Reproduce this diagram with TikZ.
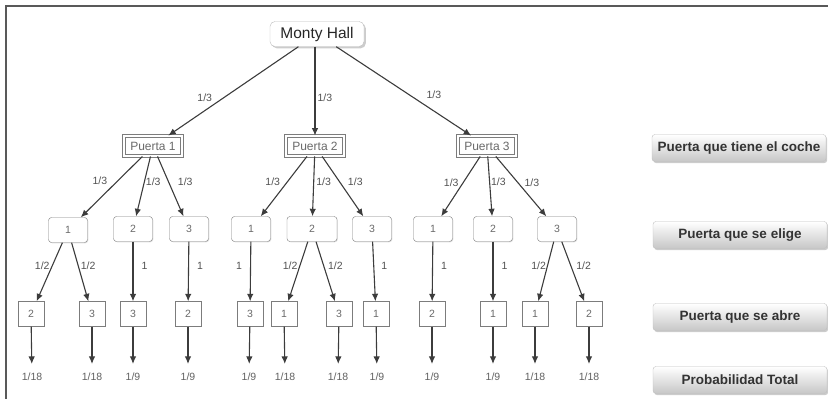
\documentclass[tikz,border=0pt]{standalone}
\usepackage{fontspec}
\setmainfont{Liberation Sans}
\usetikzlibrary{arrows.meta,shadows}
\definecolor{boxline}{HTML}{7C7C7C}
\definecolor{boxtext}{HTML}{6A6A6A}
\definecolor{wire}{HTML}{3C3C3C}
\tikzset{%
  frame/.style={draw=black!65,line width=1.6pt},
  rootbox/.style={draw=boxline!50,rounded corners=5pt,fill=white,minimum width=94pt,minimum height=25pt,inner sep=2pt,
    drop shadow={shadow xshift=1.8pt,shadow yshift=-1.8pt,opacity=0.4},font=\fontsize{15.5}{17}\selectfont,text=black!85},
  doorbox/.style={draw=boxline,double=white,double distance=1.3pt,line width=0.9pt,fill=white,
    minimum width=58pt,minimum height=20pt,inner sep=1pt,font=\fontsize{12}{13}\selectfont,text=boxtext},
  pickbox/.style={draw=boxline,rounded corners=3pt,fill=white,minimum width=39pt,minimum height=25pt,
    drop shadow={shadow xshift=0.8pt,shadow yshift=-0.8pt,opacity=0.25},
    font=\fontsize{10.5}{12}\selectfont,text=boxtext},
  openbox/.style={draw=boxline,fill=white,minimum width=26pt,minimum height=25pt,
    font=\fontsize{10.5}{12}\selectfont,text=boxtext},
  legendbox/.style={draw=black!25,rounded corners=3pt,top color=white,bottom color=black!22,
    minimum width=174pt,minimum height=27pt,inner sep=1pt,font=\fontsize{13.5}{15}\selectfont\bfseries,text=black!80,
    drop shadow={shadow xshift=1.2pt,shadow yshift=-1.6pt,opacity=0.4}},
  lbl/.style={font=\fontsize{10.5}{12}\selectfont,text=black!68,inner sep=1pt},
  prob/.style={font=\fontsize{10.5}{12}\selectfont,text=black!62,inner sep=1pt},
  branch/.style={draw=wire,line width=1.1pt,-{Latex[length=7.5pt,width=6.5pt]}}
}
\begin{document}
\begin{tikzpicture}[x=1pt,y=-1pt]
  \useasboundingbox (0,0) rectangle (828,399);
  \draw[frame] (6,399) -- (6,6) -- (828,6);
  % tree nodes
  \path
    (317,34) node (mh)[rootbox]{Monty Hall}
    (153,146) node (p1)[doorbox]{Puerta 1}
    (315,146) node (p2)[doorbox]{Puerta 2}
    (487,146) node (p3)[doorbox]{Puerta 3}
    (68,230) node (c11)[pickbox]{1}
    (133,229) node (c12)[pickbox]{2}
    (189,229) node (c13)[pickbox]{3}
    (251,229) node (c21)[pickbox]{1}
    (312,229) node (c22)[pickbox,minimum width=50pt]{2}
    (372,229) node (c23)[pickbox]{3}
    (433,229) node (c31)[pickbox]{1}
    (493,229) node (c32)[pickbox]{2}
    (557,229) node (c33)[pickbox]{3}
    (31,314) node (o11)[openbox]{2}
    (92,314) node (o12)[openbox]{3}
    (133,314) node (o13)[openbox]{3}
    (188,314) node (o14)[openbox]{2}
    (250,314) node (o21)[openbox]{3}
    (284,314) node (o22)[openbox]{1}
    (339,314) node (o23)[openbox]{3}
    (376,314) node (o24)[openbox]{1}
    (432,314) node (o31)[openbox]{2}
    (493,314) node (o32)[openbox]{1}
    (535,314) node (o33)[openbox]{1}
    (589,314) node (o34)[openbox]{2};
  % total probabilities
  \path
    (32,377) node (t11)[prob]{1/18}
    (92,377) node (t12)[prob]{1/18}
    (133,377) node (t13)[prob]{1/9}
    (188,377) node (t14)[prob]{1/9}
    (249,377) node (t21)[prob]{1/9}
    (285,377) node (t22)[prob]{1/18}
    (338,377) node (t23)[prob]{1/18}
    (377,377) node (t24)[prob]{1/9}
    (432,377) node (t31)[prob]{1/9}
    (493,377) node (t32)[prob]{1/9}
    (535,377) node (t33)[prob]{1/18}
    (589,377) node (t34)[prob]{1/18};
  % legend
  \path
    (739,148) node (lg1)[legendbox]{Puerta que tiene el coche}
    (740,235) node (lg2)[legendbox]{Puerta que se elige}
    (740,317) node (lg3)[legendbox]{Puerta que se abre}
    (740,380) node (lg4)[legendbox]{Probabilidad Total};
  % car door
  \draw[branch] (mh) -- node[lbl,pos=0.575,left=10pt]{1/3} (p1);
  \draw[branch] (mh.south -| p2) -- node[lbl,pos=0.575,right=1pt]{1/3} (p2);
  \draw[branch] (mh) -- node[lbl,pos=0.54,right=16pt]{1/3} (p3);
  % chosen door
  \draw[branch] (p1) -- node[lbl,pos=0.4,left=9pt]{1/3} (c11);
  \draw[branch] (p1) -- node[lbl,pos=0.42,right=0pt]{1/3} (c12);
  \draw[branch] (p1) -- node[lbl,pos=0.42,right=8pt]{1/3} (c13);
  \draw[branch] (p2) -- node[lbl,pos=0.42,left=6pt]{1/3} (c21);
  \draw[branch] (p2) -- node[lbl,pos=0.42,right=1pt]{1/3} (c22);
  \draw[branch] (p2) -- node[lbl,pos=0.42,right=7pt]{1/3} (c23);
  \draw[branch] (p3) -- node[lbl,pos=0.44,left=3pt]{1/3} (c31);
  \draw[branch] (p3) -- node[lbl,pos=0.42,right=0pt]{1/3} (c32);
  \draw[branch] (p3) -- node[lbl,pos=0.44,right=5pt]{1/3} (c33);
  % opened door
  \draw[branch] (c11) -- node[lbl,pos=0.4,left=1pt]{1/2} (o11);
  \draw[branch] (c11) -- node[lbl,pos=0.4,right=1pt]{1/2} (o12);
  \draw[branch] (c12) -- node[lbl,pos=0.4,right=7pt]{1} (o13);
  \draw[branch] (c13) -- node[lbl,pos=0.4,right=7pt]{1} (o14);
  \draw[branch] (c21) -- node[lbl,pos=0.4,left=7pt]{1} (o21);
  \draw[branch] (c22) -- node[lbl,pos=0.4,left=1pt]{1/2} (o22);
  \draw[branch] (c22) -- node[lbl,pos=0.4,right=3pt]{1/2} (o23);
  \draw[branch] (c23) -- node[lbl,pos=0.4,right=6pt]{1} (o24);
  \draw[branch] (c31) -- node[lbl,pos=0.4,right=7pt]{1} (o31);
  \draw[branch] (c32) -- node[lbl,pos=0.4,right=7pt]{1} (o32);
  \draw[branch] (c33) -- node[lbl,pos=0.4,left=0pt]{1/2} (o33);
  \draw[branch] (c33) -- node[lbl,pos=0.4,right=4pt]{1/2} (o34);
  % totals
  \foreach \g in {11,12,13,14,21,22,23,24,31,32,33,34}
    \draw[branch,shorten >=8pt] (o\g) -- (t\g);
\end{tikzpicture}
\end{document}
